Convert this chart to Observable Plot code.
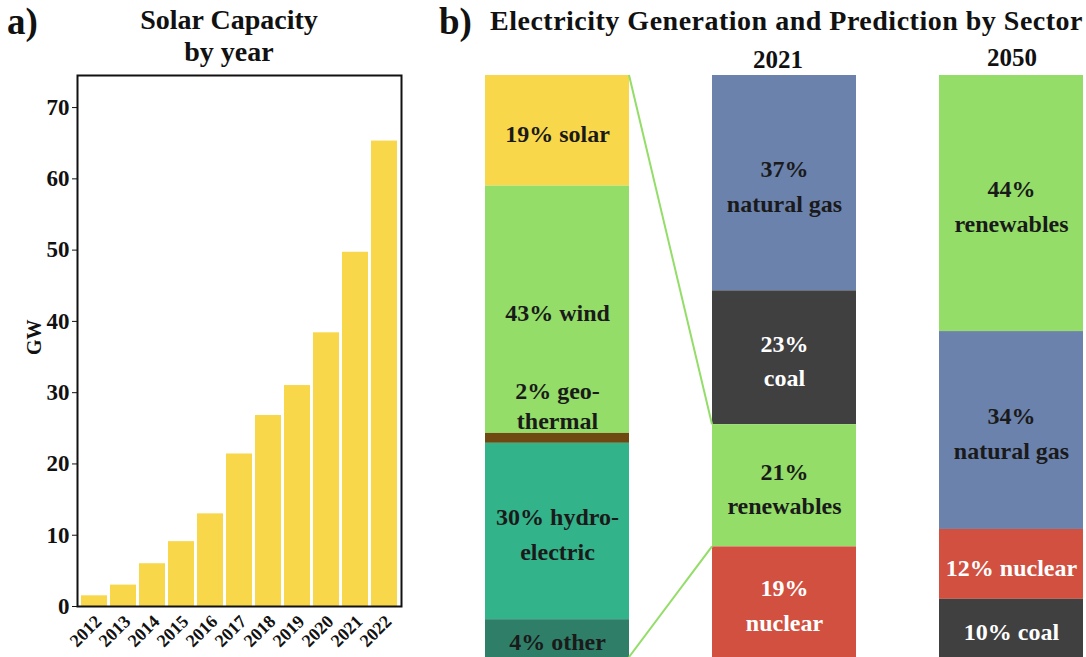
<!DOCTYPE html>
<html>
<head>
<meta charset="utf-8">
<script src="https://cdn.jsdelivr.net/npm/d3@7"></script>
<script src="https://cdn.jsdelivr.net/npm/@observablehq/plot@0.6"></script>
<style>
  html, body { margin: 0; padding: 0; background: #fff; }
  #root { position: relative; width: 1086px; height: 657px; overflow: hidden; font-family: "Liberation Serif", "DejaVu Serif", serif; font-weight: bold; color: #111; }
  .t { position: absolute; white-space: nowrap; line-height: 1; }
  .chart { position: absolute; top: 0; }
</style>
</head>
<body>
<div id="root">
  <div class="t" style="left:7px; top:3px; font-size:37px;">a)</div>
  <div class="t" style="left:129px; width:200px; text-align:center; top:6px; font-size:28px;">Solar Capacity</div>
  <div class="t" style="left:129px; width:200px; text-align:center; top:38px; font-size:28px;">by year</div>
  <div class="t" style="left:439px; top:3px; font-size:37px;">b)</div>
  <div class="t" style="left:490px; top:7px; font-size:28px; letter-spacing:0.5px;">Electricity Generation and Prediction by Sector</div>
  <div class="t" style="left:728px; width:100px; text-align:center; top:47px; font-size:25px;">2021</div>
  <div class="t" style="left:962px; width:100px; text-align:center; top:45px; font-size:25px;">2050</div>
  <div id="left" class="chart" style="left:0px;"></div>
  <div id="right" class="chart" style="left:430px;"></div>
</div>
<script>
// ---- Panel a) Solar capacity by year (GW)
const years = ["2012","2013","2014","2015","2016","2017","2018","2019","2020","2021","2022"];
const solarGW = [1.5, 3.0, 6.0, 9.1, 13.0, 21.4, 26.8, 31.0, 38.4, 49.7, 65.3];
const yTicks = [0, 10, 20, 30, 40, 50, 60, 70];

// ---- Panel b) Electricity generation by sector
const columns = ["mix", "2021", "2050"];
const mixSources = ["solar", "wind", "geothermal", "hydroelectric", "other"];
const mixShares = [19, 42.5, 1.7, 30.3, 6.5];
const mixLabels = ["19% solar", "43% wind", "2% geo-\nthermal", "30% hydro-\nelectric", "4% other"];
const gen2021Sources = ["natural gas", "coal", "renewables", "nuclear"];
const gen2021Shares = [37, 23, 21, 19];
const gen2021Labels = ["37%\nnatural gas", "23%\ncoal", "21%\nrenewables", "19%\nnuclear"];
const gen2050Sources = ["renewables", "natural gas", "nuclear", "coal"];
const gen2050Shares = [44, 34, 12, 10];
const gen2050Labels = ["44%\nrenewables", "34%\nnatural gas", "12% nuclear", "10% coal"];

const sourceNames = ["solar", "wind", "geothermal", "hydroelectric", "other", "natural gas", "coal", "renewables", "nuclear"];
const sourceColors = ["#F8D84A", "#93DD68", "#6E4A12", "#33B38A", "#2F7F68", "#6B82AD", "#404040", "#93DD68", "#D1503F"];
const whiteText = ["coal", "nuclear"];

const FONT = "Liberation Serif, DejaVu Serif, serif";

// Left chart
const solar = years.map((y, i) => ({year: y, gw: solarGW[i]}));
const left = Plot.plot({
  width: 420, height: 657,
  marginLeft: 77, marginRight: 19, marginTop: 75, marginBottom: 51,
  style: {fontFamily: FONT, fontWeight: "bold", fontSize: "17px", color: "#111", background: "transparent"},
  x: {domain: years, paddingInner: 0.1, paddingOuter: 0.02},
  y: {domain: [0, 74.5]},
  marks: [
    Plot.barY(solar, {x: "year", y: "gw", fill: "#F8D84A"}),
    Plot.frame({stroke: "#111", strokeWidth: 2}),
    Plot.axisY({ticks: yTicks, tickSize: 5, tickPadding: 3, label: null, fontSize: 23, fontWeight: "bold"}),
    Plot.axisX({tickRotate: -45, tickSize: 0, tickPadding: 12, dx: 4, label: null, fontSize: 18, fontWeight: "bold"}),
    Plot.text(["GW"], {frameAnchor: "left", dx: -43, dy: 14, rotate: -90, fontSize: 20, fontWeight: "bold", fill: "#111"})
  ]
});
document.getElementById("left").appendChild(left);

// Right chart
const rows = [];
mixSources.forEach((s, i) => rows.push({column: "mix", source: s, share: mixShares[i], label: mixLabels[i]}));
gen2021Sources.forEach((s, i) => rows.push({column: "2021", source: s, share: gen2021Shares[i], label: gen2021Labels[i]}));
gen2050Sources.forEach((s, i) => rows.push({column: "2050", source: s, share: gen2050Shares[i], label: gen2050Labels[i]}));

// connector: from the full "mix" bar to the renewables segment of 2021
const renIdx = gen2021Sources.indexOf("renewables");
const renTop = d3.sum(gen2021Shares.slice(0, renIdx));
const renBottom = renTop + gen2021Shares[renIdx];
const connectors = [
  {from: "mix", fromY: 0, to: "2021", toY: renTop},
  {from: "mix", fromY: d3.sum(mixShares), to: "2021", toY: renBottom}
];

function connectorMark(index, scales) {
  const x = scales.x, y = scales.y;
  const bw = typeof x.bandwidth === "function" ? x.bandwidth() : x.bandwidth;
  const g = d3.create("svg:g");
  for (const c of connectors) {
    g.append("line")
      .attr("x1", x(c.from) + bw).attr("y1", y(c.fromY))
      .attr("x2", x(c.to)).attr("y2", y(c.toY))
      .attr("stroke", "#93DD68").attr("stroke-width", 2);
  }
  return g.node();
}

const textCommon = {x: "column", y: "share", fontSize: 24, fontWeight: "bold", lineHeight: 1.45,
  fill: d => whiteText.includes(d.source) ? "#fff" : "#1a1a1a"};

const right = Plot.plot({
  width: 656, height: 657,
  marginLeft: 54, marginRight: 1, marginTop: 75, marginBottom: 0,
  style: {fontFamily: FONT, fontWeight: "bold", background: "transparent"},
  x: {domain: columns, paddingInner: 0.364, paddingOuter: 0, axis: null},
  y: {domain: [0, 100], reverse: true, axis: null},
  color: {domain: sourceNames, range: sourceColors},
  marks: [
    Plot.barY(rows, {x: "column", y: "share", fill: "source"}),
    Plot.text(rows, Plot.stackY({...textCommon, text: d => d.source === "geothermal" ? "" : d.label})),
    Plot.text(rows, Plot.stackY({...textCommon, lineHeight: 1.25, text: d => d.source === "geothermal" ? d.label : "", dy: -34})),
    connectorMark
  ]
});
document.getElementById("right").appendChild(right);
</script>
</body>
</html>
